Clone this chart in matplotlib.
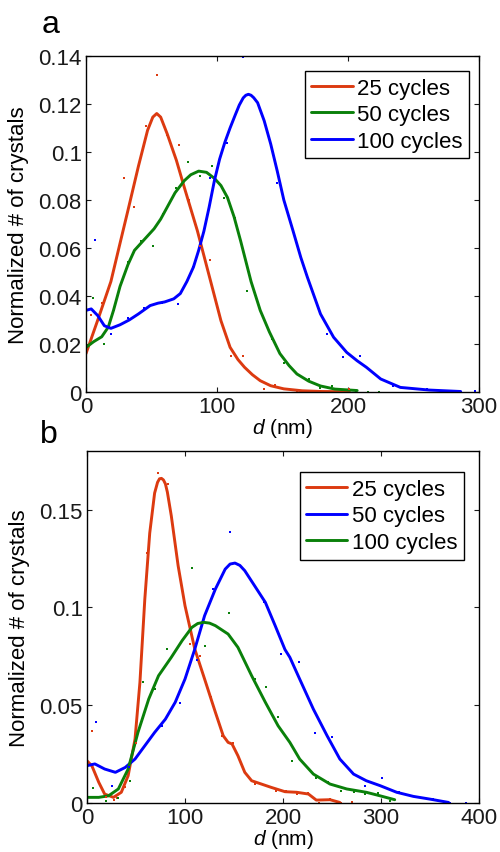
"""Size distributions of crystals vs. number of deposition cycles (panels a, b)."""

import matplotlib
matplotlib.use("Agg")
import matplotlib.pyplot as plt
from matplotlib.ticker import FormatStrFormatter

plt.rcParams["font.family"] = ["Liberation Sans", "DejaVu Sans"]
plt.rcParams["mathtext.fontset"] = "custom"
plt.rcParams["mathtext.rm"] = "Liberation Sans"
plt.rcParams["mathtext.it"] = "Liberation Sans:italic"

RED, GREEN, BLUE = "#dc3a10", "#0a800a", "#0000ff"

# ---------------------------------------------------------- panel a data
a25_fit_x = [0, 9, 19, 26, 32, 40, 47, 51, 54, 57, 62, 69, 75, 85, 95, 103, 110,
             116, 121, 127, 133, 141, 151, 165, 180, 201]
a25_fit_y = [0.016, 0.030, 0.046, 0.062, 0.0756, 0.094, 0.109, 0.1145, 0.116, 0.1145,
             0.1075, 0.0965, 0.0853, 0.0672, 0.0464, 0.0297, 0.0186, 0.0135, 0.0103,
             0.0072, 0.0047, 0.0026, 0.0013, 0.0005, 0.0002, 0.0001]
a50_fit_x = [0, 6, 12, 17, 21, 26, 32, 37, 42, 47, 52, 57, 62, 68, 75, 80, 86, 92, 98,
             103, 108, 113, 118, 126, 133, 140, 148, 155, 161, 170, 179, 190, 207]
a50_fit_y = [0.0186, 0.021, 0.023, 0.027, 0.034, 0.044, 0.053, 0.059, 0.062, 0.065,
             0.068, 0.072, 0.077, 0.083, 0.088, 0.0905, 0.092, 0.0915, 0.089, 0.086,
             0.081, 0.073, 0.063, 0.046, 0.034, 0.025, 0.016, 0.011, 0.0075, 0.0045,
             0.0025, 0.0012, 0.0006]
a100_fit_x = [0, 4, 9, 14, 19, 26, 33, 40, 49, 55, 60, 67, 72, 77, 82, 86, 90, 94, 98,
              102, 106, 110, 114, 117, 120, 122, 124, 126, 128, 131, 136, 141, 146, 151,
              158, 164, 169, 179, 189, 199, 207, 214, 225, 240, 262, 286]
a100_fit_y = [0.034, 0.0346, 0.0318, 0.0276, 0.0265, 0.028, 0.030, 0.0325, 0.036, 0.037,
              0.0375, 0.0388, 0.041, 0.046, 0.052, 0.059, 0.067, 0.077, 0.088, 0.097,
              0.104, 0.110, 0.1155, 0.1195, 0.1225, 0.1236, 0.124, 0.1236, 0.1226, 0.1205,
              0.113, 0.1033, 0.092, 0.080, 0.0672, 0.056, 0.0478, 0.0325, 0.0228, 0.0165,
              0.013, 0.0103, 0.0054, 0.0019, 0.0008, 0.0002]

a25_pts_x = [4, 12, 21, 29, 37, 46, 54, 62, 71, 79, 87, 95, 103, 111, 120, 136, 144, 161, 201]
a25_pts_y = [0.032, 0.037, 0.034, 0.089, 0.077, 0.111, 0.132, 0.107, 0.103, 0.080, 0.061,
             0.055, 0.030, 0.015, 0.015, 0.0013, 0.003, 0.0, 0.0013]
a50_pts_x = [5, 14, 21, 32, 42, 51, 59, 69, 78, 87, 96, 105, 114, 123, 133, 142, 151, 160,
             170, 179, 188, 206, 215, 224]
a50_pts_y = [0.039, 0.020, 0.034, 0.054, 0.063, 0.061, 0.074, 0.085, 0.096, 0.090, 0.094,
             0.081, 0.0725, 0.042, 0.034, 0.022, 0.012, 0.008, 0.0053, 0.0016, 0.0026,
             0.0, 0.0, 0.0]
a100_pts_x = [7, 19, 32, 44, 58, 70, 82, 95, 108, 120, 146, 158, 184, 196, 209, 234, 247,
              260, 272, 297]
a100_pts_y = [0.0635, 0.024, 0.031, 0.035, 0.037, 0.0367, 0.052, 0.089, 0.1036, 0.1396,
              0.0872, 0.0675, 0.024, 0.0147, 0.015, 0.0026, 0.0017, 0.0013, 0.0006, 0.0002]

# ---------------------------------------------------------- panel b data
b25_fit_x = [0, 5, 12, 18, 27, 35, 42, 49, 54, 59, 64, 69, 72, 74, 76, 78, 80, 82, 86,
             93, 100, 110, 120, 131, 139, 144, 148, 154, 161, 168, 178, 188, 202, 214, 226,
             234, 248, 258]
b25_fit_y = [0.0216, 0.019, 0.0106, 0.0046, 0.0029, 0.0055, 0.014, 0.0327, 0.0617, 0.1043,
             0.138, 0.1585, 0.1640, 0.1658, 0.166, 0.1652, 0.1632, 0.159, 0.1469, 0.1213,
             0.1009, 0.0787, 0.0634, 0.0464, 0.0344, 0.031, 0.0302, 0.0242, 0.0157,
             0.0114, 0.0097, 0.008, 0.0058, 0.0055, 0.0046, 0.0015, 0.0017, 0.0003]
b50_fit_x = [0, 8, 18, 29, 39, 49, 59, 69, 80, 90, 100, 110, 120, 131, 141, 146, 151, 156,
             161, 171, 182, 192, 202, 207, 217, 231, 245, 258, 272, 285, 299, 316, 333,
             350, 369]
b50_fit_y = [0.0191, 0.020, 0.0174, 0.0157, 0.0182, 0.0225, 0.0293, 0.0361, 0.0429, 0.0515,
             0.0634, 0.0787, 0.0958, 0.1094, 0.1196, 0.1222, 0.1227, 0.1215, 0.1188, 0.1111,
             0.1026, 0.0907, 0.0785, 0.0745, 0.0634, 0.048, 0.0344, 0.0225, 0.0148, 0.0114,
             0.0089, 0.0055, 0.0034, 0.002, 0.0003]
b100_fit_x = [0, 12, 22, 32, 42, 52, 63, 73, 86, 97, 107, 113, 119, 125, 131, 144, 154,
              168, 182, 195, 207, 217, 231, 248, 265, 285, 299, 314]
b100_fit_y = [0.0029, 0.0029, 0.0037, 0.0072, 0.0174, 0.0361, 0.0532, 0.0651, 0.0745,
              0.083, 0.0898, 0.0918, 0.0924, 0.092, 0.0907, 0.0864, 0.0796, 0.0651, 0.0515,
              0.0395, 0.031, 0.0225, 0.0148, 0.0097, 0.0072, 0.0055, 0.0037, 0.0017]

b25_pts_x = [5, 19, 28, 31, 39, 50, 61, 72, 83, 105, 115, 127, 138, 149, 160, 171, 182,
             193, 203, 214, 226, 237, 248, 259, 270]
b25_pts_y = [0.0366, 0.003, 0.0017, 0.0024, 0.008, 0.0307, 0.128, 0.169, 0.163, 0.0813,
             0.0753, 0.054, 0.0344, 0.0305, 0.0162, 0.0099, 0.0092, 0.006, 0.0063, 0.0046,
             0.005, 0.0, 0.002, 0.0, 0.0007]
b50_pts_x = [9, 26, 43, 60, 77, 95, 112, 129, 146, 164, 181, 198, 216, 233, 250, 267, 284,
             301, 318, 336, 353, 370, 387]
b50_pts_y = [0.0412, 0.0085, 0.0182, 0.0302, 0.0392, 0.0511, 0.0733, 0.1092, 0.1387,
             0.1159, 0.1026, 0.0762, 0.0719, 0.0358, 0.0336, 0.0174, 0.0085, 0.0126,
             0.0055, 0.0029, 0.002, 0.0, 0.0]
b100_pts_x = [6, 19, 32, 44, 57, 69, 82, 107, 120, 132, 145, 171, 183, 195, 209, 234, 246,
              259, 272, 284, 297, 309]
b100_pts_y = [0.0075, 0.0009, 0.0024, 0.0114, 0.062, 0.0583, 0.0787, 0.1203, 0.0801,
              0.0905, 0.0971, 0.0634, 0.0595, 0.0438, 0.0216, 0.0126, 0.011, 0.0063,
              0.0055, 0.0046, 0.005, 0.0012]

labels = ["25 cycles", "50 cycles", "100 cycles"]
a_xticks = [0, 100, 200, 300]
a_yticks = [0, 0.02, 0.04, 0.06, 0.08, 0.1, 0.12, 0.14]
b_xticks = [0, 100, 200, 300, 400]
b_yticks = [0, 0.05, 0.1, 0.15]

FS = 16


def _style(ax, xticks, yticks, xlim, ylim):
    ax.set_xlim(*xlim)
    ax.set_ylim(*ylim)
    ax.set_xticks(xticks)
    ax.set_yticks(yticks)
    ax.yaxis.set_major_formatter(FormatStrFormatter("%g"))
    ax.tick_params(direction="in", top=True, right=True, length=3.5, width=0.8,
                   labelsize=FS, pad=3, colors="#1a1a1a")
    for s in ax.spines.values():
        s.set_linewidth(1.0)
    ax.set_xlabel("$d$ (nm)", fontsize=15, labelpad=-1)
    ax.set_ylabel("Normalized # of crystals", fontsize=FS)
    ax.yaxis.set_label_coords(-0.145, 0.5)


def _panel(ax, series, legend_anchor):
    # fitted curves first (for legend), then the raw histogram points
    for (fx, fy, px, py, color), lab in zip(series, labels):
        ax.plot(fx, fy, color=color, lw=2.1, label=lab, solid_joinstyle="round",
                solid_capstyle="round")
    for fx, fy, px, py, color in series:
        ax.plot(px, py, "s", color=color, ms=2.0, mew=0, clip_on=False)
    leg = ax.legend(loc="upper right", bbox_to_anchor=legend_anchor, borderaxespad=0,
                    fontsize=FS, frameon=True, fancybox=False, framealpha=1,
                    handlelength=1.85, handletextpad=0.2, labelspacing=0.25,
                    borderpad=0.3)
    leg.get_frame().set_edgecolor("black")
    leg.get_frame().set_linewidth(1.0)


fig = plt.figure(figsize=(5.0, 8.53), dpi=100)

ax_a = fig.add_axes([0.172, 0.5393, 0.786, 0.394])
_panel(ax_a, [(a25_fit_x, a25_fit_y, a25_pts_x, a25_pts_y, RED),
              (a50_fit_x, a50_fit_y, a50_pts_x, a50_pts_y, GREEN),
              (a100_fit_x, a100_fit_y, a100_pts_x, a100_pts_y, BLUE)],
       legend_anchor=(0.975, 0.955))
_style(ax_a, a_xticks, a_yticks, (0, 300), (0, 0.14))

ax_b = fig.add_axes([0.174, 0.0574, 0.784, 0.4127])
_panel(ax_b, [(b25_fit_x, b25_fit_y, b25_pts_x, b25_pts_y, RED),
              (b50_fit_x, b50_fit_y, b50_pts_x, b50_pts_y, BLUE),
              (b100_fit_x, b100_fit_y, b100_pts_x, b100_pts_y, GREEN)],
       legend_anchor=(0.962, 0.940))
_style(ax_b, b_xticks, b_yticks, (0, 400), (0, 0.18))

fig.text(42 / 500, 1 - 33 / 853, "a", fontsize=23, va="baseline")
fig.text(40 / 500, 1 - 443 / 853, "b", fontsize=23, va="baseline")

fig.savefig("out.png", dpi=100)
